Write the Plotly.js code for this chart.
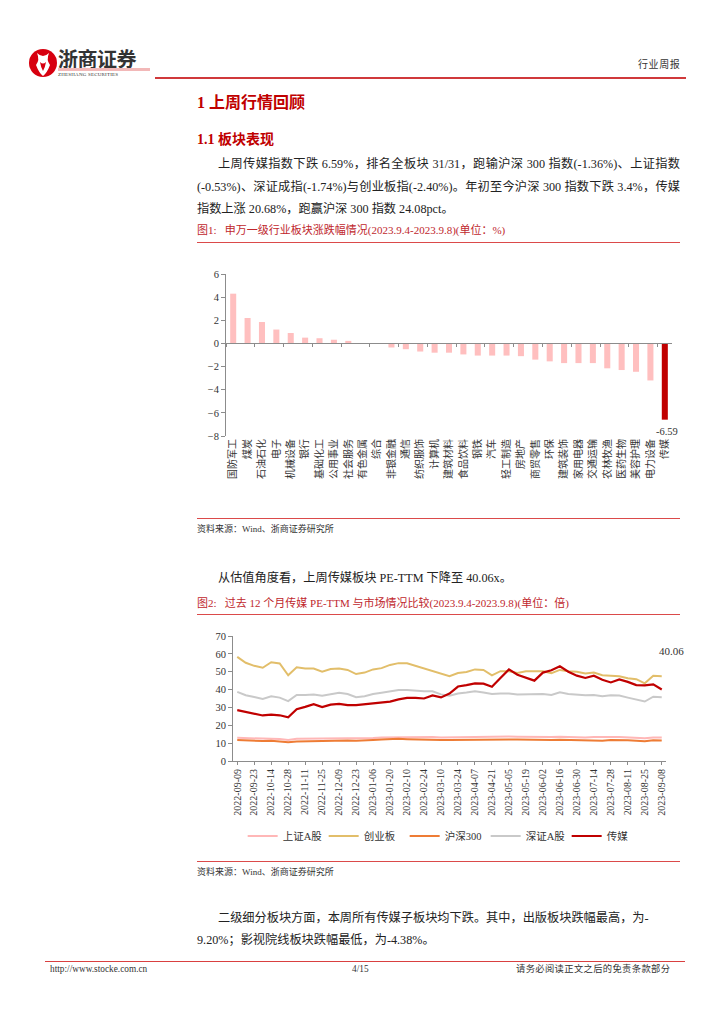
<!DOCTYPE html>
<html>
<head>
<meta charset="utf-8">
<script src="https://cdn.plot.ly/plotly-3.0.1.min.js"></script>
<style>
  html, body { margin:0; padding:0; background:#fff; }
  body { width:724px; height:1024px; position:relative; overflow:hidden;
         font-family:"Liberation Serif","Noto Sans CJK SC",serif; color:#222; }
  .abs { position:absolute; white-space:nowrap; }
  .para { font-size:12.2px; line-height:16px; }
  .just { text-align:justify; text-align-last:justify; white-space:normal; }
  .h1 { font-size:16px; font-weight:bold; color:#C00000; line-height:20px; }
  .h2 { font-size:14px; font-weight:bold; color:#C00000; line-height:18px; }
  .cap { font-size:11px; color:#C0272D; line-height:14px; }
  .src { font-size:9px; color:#333; line-height:12px; }
  .rline { position:absolute; height:0; border-top:1.5px solid #DB4A4A; }
  .foot { font-size:9.3px; color:#333; line-height:12px; }
</style>
</head>
<body>
<!-- header -->
<svg class="abs" style="left:28px;top:46px" width="32" height="34" viewBox="0 0 32 34">
  <circle cx="15" cy="17" r="14" fill="#D7000F"/>
  <path d="M9 7 Q15 13 21 7 Q18 14 22 19 Q19 27 15 30 Q11 27 8 19 Q12 14 9 7 Z" fill="#fff"/>
  <path d="M12 16 Q15 19 18 16 Q17 22 15 25 Q13 22 12 16 Z" fill="#D7000F"/>
</svg>
<div class="abs" style="left:58px;top:47px;font-size:20px;font-weight:bold;color:#333;font-family:'Noto Sans CJK SC';line-height:24px;letter-spacing:-0.5px">浙商证券</div>
<div class="abs" style="left:58px;top:68px;width:92px;height:3px;background:#F2B8B8"></div>
<div class="abs" style="left:58px;top:71px;font-size:5px;color:#333;line-height:7px;letter-spacing:0.2px">ZHESHANG SECURITIES</div>
<div class="rline" style="left:155px;top:77px;width:531px;border-top:2px solid #D0393B"></div>
<div class="abs" style="left:638px;top:58px;font-size:10px;letter-spacing:0.6px;color:#333;line-height:14px">行业周报</div>

<div class="abs h1" style="left:197px;top:93px">1 上周行情回顾</div>
<div class="abs h2" style="left:197px;top:131px">1.1 板块表现</div>

<div class="abs para just" style="left:218px;top:156px;width:462px">上周传媒指数下跌 6.59%，排名全板块 31/31，跑输沪深 300 指数(-1.36%)、上证指数</div>
<div class="abs para just" style="left:197px;top:179px;width:483px">(-0.53%)、深证成指(-1.74%)与创业板指(-2.40%)。年初至今沪深 300 指数下跌 3.4%，传媒</div>
<div class="abs para" style="left:197px;top:201px">指数上涨 20.68%，跑赢沪深 300 指数 24.08pct。</div>

<div class="abs cap" style="left:197px;top:223px">图1:&nbsp;&nbsp;&nbsp;申万一级行业板块涨跌幅情况(2023.9.4-2023.9.8)(单位：%)</div>
<div class="rline" style="left:197px;top:242px;width:483px"></div>

<div id="chart1" class="abs" style="left:190px;top:255px;width:500px;height:250px"></div>

<div class="rline" style="left:197px;top:518px;width:483px"></div>
<div class="abs src" style="left:197px;top:523px">资料来源：Wind、浙商证券研究所</div>

<div class="abs para" style="left:218px;top:570px">从估值角度看，上周传媒板块 PE-TTM 下降至 40.06x。</div>

<div class="abs cap" style="left:197px;top:596px">图2:&nbsp;&nbsp;&nbsp;过去 12 个月传媒 PE-TTM 与市场情况比较(2023.9.4-2023.9.8)(单位：倍)</div>
<div class="rline" style="left:197px;top:614px;width:483px"></div>

<div id="chart2" class="abs" style="left:190px;top:625px;width:505px;height:245px"></div>

<div class="rline" style="left:197px;top:861px;width:483px"></div>
<div class="abs src" style="left:197px;top:866px">资料来源：Wind、浙商证券研究所</div>

<div class="abs para" style="left:218px;top:910px">二级细分板块方面，本周所有传媒子板块均下跌。其中，出版板块跌幅最高，为-</div>
<div class="abs para" style="left:197px;top:932px">9.20%；影视院线板块跌幅最低，为-4.38%。</div>

<div class="rline" style="left:45px;top:961px;width:640px;border-top:1.5px solid #D94040"></div>
<div class="abs foot" style="left:50px;top:963px">http://www.stocke.com.cn</div>
<div class="abs foot" style="left:352px;top:963px">4/15</div>
<div class="abs foot" style="left:516px;top:963px;letter-spacing:0.35px">请务必阅读正文之后的免责条款部分</div>

<script>
// ---------- Chart 1 data ----------
var industries = ['国防军工','煤炭','石油石化','电子','机械设备','银行','基础化工','公用事业','社会服务','有色金属','综合','非银金融','通信','纺织服饰','计算机','建筑材料','食品饮料','钢铁','汽车','轻工制造','房地产','商贸零售','环保','建筑装饰','家用电器','交通运输','农林牧渔','医药生物','美容护理','电力设备','传媒'];
var weeklyChange = [4.30,2.20,1.85,1.20,0.90,0.50,0.45,0.32,0.22,0.03,-0.05,-0.35,-0.50,-0.70,-0.80,-0.80,-0.95,-1.05,-1.05,-1.05,-1.10,-1.40,-1.55,-1.70,-1.70,-1.70,-2.15,-2.30,-2.45,-3.20,-6.59];
var highlight = '传媒';

// ---------- Chart 2 data ----------
var dates = ['2022-09-09','2022-09-16','2022-09-23','2022-09-30','2022-10-14','2022-10-21','2022-10-28','2022-11-04','2022-11-11','2022-11-18','2022-11-25','2022-12-02','2022-12-09','2022-12-16','2022-12-23','2022-12-30','2023-01-06','2023-01-13','2023-01-20','2023-02-03','2023-02-10','2023-02-17','2023-02-24','2023-03-03','2023-03-10','2023-03-17','2023-03-24','2023-03-31','2023-04-07','2023-04-14','2023-04-21','2023-04-28','2023-05-05','2023-05-12','2023-05-19','2023-05-26','2023-06-02','2023-06-09','2023-06-16','2023-06-21','2023-06-30','2023-07-07','2023-07-14','2023-07-21','2023-07-28','2023-08-04','2023-08-11','2023-08-18','2023-08-25','2023-09-01','2023-09-08'];
var shA   = [13.0,12.8,12.5,12.2,12.4,12.3,11.8,12.5,12.5,12.6,12.6,12.7,12.9,12.8,12.6,12.7,12.9,13.1,13.2,13.3,13.3,13.2,13.2,13.4,13.2,13.3,13.4,13.5,13.6,13.6,13.5,13.6,13.7,13.6,13.5,13.4,13.5,13.5,13.6,13.4,13.3,13.2,13.4,13.2,13.4,13.4,13.1,12.9,12.7,13.2,13.1];
var cyb   = [58.3,55.0,53.3,52.2,55.3,54.6,48.0,52.5,51.8,51.8,50.0,51.5,51.8,51.0,48.7,49.5,51.3,52.0,53.8,54.8,54.7,53.3,51.5,50.5,48.8,47.5,49.3,49.8,51.3,51.0,48.0,50.3,50.3,49.3,50.2,50.0,50.2,49.2,51.0,50.3,50.0,49.0,49.5,48.0,47.7,47.5,46.3,45.8,43.5,47.7,47.5];
var hs300 = [11.8,11.5,11.3,11.2,11.3,11.1,10.5,10.9,11.0,11.0,11.1,11.3,11.6,11.5,11.3,11.4,11.8,12.1,12.3,12.4,12.2,12.0,11.9,12.0,11.7,11.8,11.9,12.0,12.1,12.1,12.0,12.0,12.1,12.0,11.9,11.7,11.7,11.7,11.9,11.8,11.6,11.5,11.7,11.4,11.8,11.8,11.6,11.3,11.1,11.6,11.5];
var szA   = [38.7,36.8,35.8,34.8,36.2,35.5,33.5,37.0,37.0,37.2,36.5,37.5,38.2,37.5,35.7,36.3,37.5,38.2,39.0,39.8,39.7,39.2,39.0,39.0,37.3,36.5,37.8,38.3,39.0,38.3,37.5,37.8,37.8,37.3,37.5,37.3,37.5,37.0,38.5,37.5,37.2,36.8,37.0,36.3,36.8,36.7,35.5,34.3,33.3,36.0,35.7];
var media = [28.5,27.5,26.5,25.5,26.0,25.6,24.5,29.0,30.3,31.8,30.2,31.6,32.0,31.3,31.3,31.8,32.4,32.9,33.3,34.5,35.3,35.3,35.0,36.7,35.6,37.8,41.7,42.5,43.5,43.3,41.6,46.5,51.3,48.3,46.5,45.0,49.5,50.8,53.0,50.0,47.8,46.5,47.8,45.5,44.0,45.7,44.3,42.5,42.4,42.9,40.06];
var seriesNames = ['上证A股','创业板','沪深300','深证A股','传媒'];

var FONT = '"Liberation Serif","Noto Sans CJK SC",serif';
var AXC = '#8c8c8c';

// ---------- Chart 1 ----------
var barColors = industries.map(function(n){ return n === highlight ? '#C00000' : '#FFBFBF'; });
var lastIdx = industries.length - 1;
var catRange = [-0.5, industries.length - 0.5];
Plotly.newPlot('chart1', [{
  type:'bar', x: industries, y: weeklyChange, marker:{color: barColors, line:{width:0}},
  hoverinfo:'x+y', cliponaxis:false
}, {
  type:'bar', x: industries, y: weeklyChange, xaxis:'x2',
  marker:{opacity:0}, hoverinfo:'skip', showlegend:false
}], {
  width:500, height:250, margin:{l:36, r:18, t:19, b:69},
  paper_bgcolor:'rgba(0,0,0,0)', plot_bgcolor:'rgba(0,0,0,0)',
  showlegend:false, bargap:0.58, barmode:'overlay',
  font:{family:FONT, color:'#333', size:10.5},
  xaxis:{type:'category', range: catRange, autorange:false, showline:false, ticks:'', tickangle:-90, showgrid:false, zeroline:false,
         tickfont:{size:10, family:FONT, color:'#333'}, automargin:false},
  xaxis2:{type:'category', overlaying:'x', range: catRange, autorange:false, anchor:'free', position:8/14,
          showline:true, linecolor:AXC, linewidth:1, ticks:'outside', ticklen:3, tickcolor:AXC,
          tickson:'boundaries', showticklabels:false, showgrid:false, zeroline:false},
  yaxis:{range:[-8,6], dtick:2, showline:true, linecolor:AXC, linewidth:1, ticks:'outside',
         ticklen:4, tickcolor:AXC, showgrid:false, zeroline:false,
         tickfont:{size:10.5, family:FONT, color:'#333'}, automargin:false},
  annotations:[{x: industries[lastIdx], y: weeklyChange[lastIdx], text: weeklyChange[lastIdx].toFixed(2),
    showarrow:false, xshift:2, yshift:-12, font:{size:10.5, family:FONT, color:'#333'}}]
}, {staticPlot:true});

// ---------- Chart 2 ----------
var seriesData = [shA, cyb, hs300, szA, media];
var seriesColors = ['#FFB7B7','#E2BE6A','#EE7C35','#C9C9C9','#C00000'];
var seriesWidths = [2, 2, 2, 2, 2.2];
var traces = seriesData.map(function(arr, i){
  return {type:'scatter', mode:'lines', x: dates, y: arr, name: seriesNames[i],
          line:{color: seriesColors[i], width: seriesWidths[i]}};
});
var labelDates = dates.filter(function(d, i){ return i % 2 === 0; });
var lastD = dates.length - 1;
Plotly.newPlot('chart2', traces, {
  width:505, height:245, margin:{l:43, r:28.5, t:11, b:108.5},
  paper_bgcolor:'rgba(0,0,0,0)', plot_bgcolor:'rgba(0,0,0,0)',
  font:{family:FONT, color:'#333', size:10.5},
  xaxis:{type:'category', range:[-0.5, dates.length - 0.5], autorange:false, tickmode:'array', tickvals: labelDates, ticktext: labelDates,
         tickangle:-90, showline:true, linecolor:AXC, linewidth:1, ticks:'outside', ticklen:3, tickcolor:AXC,
         showgrid:false, zeroline:false, tickfont:{size:10, family:FONT, color:'#333'}, automargin:false},
  yaxis:{range:[0,70], dtick:10, showline:true, linecolor:AXC, linewidth:1, ticks:'outside', ticklen:4,
         tickcolor:AXC, showgrid:false, zeroline:false, tickfont:{size:10.5, family:FONT, color:'#333'}, automargin:false},
  legend:{orientation:'h', x:0.49, xanchor:'center', y:-0.60, yanchor:'middle',
          itemwidth:30, entrywidth:36, entrywidthmode:'pixels', font:{size:10.5, family:FONT, color:'#333'},
          bgcolor:'rgba(0,0,0,0)', traceorder:'normal'},
  annotations:[{x: dates[lastD], y: media[lastD], text: media[lastD].toFixed(2), showarrow:false,
    xshift:10, yshift:38, font:{size:11, family:FONT, color:'#333'}}]
}, {staticPlot:true});
</script>
</body>
</html>
